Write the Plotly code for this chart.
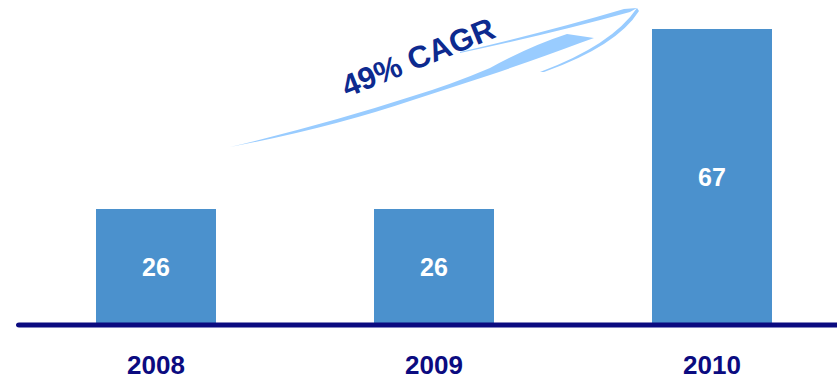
import plotly.graph_objects as go

# Revenue by year
years = ["2008", "2009", "2010"]
values = [26, 26, 67]
cagr_label = "49% CAGR"

W, H = 837, 379
MARGIN_B = 55
PLOT_H = H - MARGIN_B

BAR_COLOR = "#4b91cd"
NAVY = "#0b0b80"
SWOOSH = "#99ccff"

x_pos = list(range(len(years)))

fig = go.Figure(
    go.Bar(
        x=x_pos,
        y=values,
        width=0.432,
        marker=dict(color=BAR_COLOR, line=dict(width=0)),
        text=values,
        texttemplate="<b>%{text}</b>",
        textposition="inside",
        insidetextanchor="middle",
        textfont=dict(family="Arial, Liberation Sans, sans-serif", size=25, color="white"),
        hoverinfo="skip",
    )
)


def px_to_paper(px, py):
    return px / W, (PLOT_H - py) / PLOT_H


def path_from_px(points_cmds):
    """Build an SVG path in paper coordinates from pixel-space commands."""
    out = []
    for cmd, pts in points_cmds:
        coords = []
        for (px, py) in pts:
            xp, yp = px_to_paper(px, py)
            coords.append(f"{xp:.5f},{yp:.5f}")
        out.append(cmd + " " + " ".join(coords))
    return " ".join(out) + " Z"


# Growth swoosh: main band, upper stroke and return stroke of the arrow tip
band = path_from_px([
    ("M", [(230, 147)]),
    ("Q", [(330, 128), (413, 100)]),
    ("L", [(490, 75)]),
    ("Q", [(540, 58), (580, 43)]),
    ("L", [(594, 38)]),
    ("L", [(567, 34)]),
    ("Q", [(530, 46), (490, 68)]),
    ("Q", [(450, 85), (413, 96)]),
    ("Q", [(330, 123), (230, 147)]),
])
upper = path_from_px([
    ("M", [(460, 52)]),
    ("Q", [(550, 31), (624, 9)]),
    ("L", [(637, 8)]),
    ("L", [(630, 12)]),
    ("Q", [(550, 34), (460, 53)]),
])
ret = path_from_px([
    ("M", [(637, 8)]),
    ("Q", [(612, 45), (540, 72)]),
    ("L", [(544, 72)]),
    ("Q", [(617, 46), (639, 11)]),
])

# Baseline just under the bar bottoms, with a rounded left end
base = path_from_px([
    ("M", [(19, 322.5)]),
    ("L", [(W, 322.5)]),
    ("L", [(W, 327.5)]),
    ("L", [(19, 327.5)]),
    ("Q", [(16, 327.5), (16, 325)]),
    ("Q", [(16, 322.5), (19, 322.5)]),
])

shapes = []
for p in (band, upper, ret):
    shapes.append(dict(type="path", path=p, xref="paper", yref="paper",
                       fillcolor=SWOOSH, line=dict(width=0), layer="above"))
shapes.append(dict(type="path", path=base, xref="paper", yref="paper",
                   fillcolor=NAVY, line=dict(width=0), layer="above"))

y_top = PLOT_H / 4.41

cx, cy = px_to_paper(418, 57)

fig.update_layout(
    width=W,
    height=H,
    margin=dict(l=0, r=0, t=0, b=MARGIN_B),
    paper_bgcolor="white",
    plot_bgcolor="white",
    showlegend=False,
    bargap=0,
    shapes=shapes,
    annotations=[dict(
        text=f"<b>{cagr_label}</b>", x=cx, y=cy, xref="paper", yref="paper",
        xanchor="center", yanchor="middle",
        showarrow=False, textangle=-22,
        font=dict(family="Arial, Liberation Sans, sans-serif", size=31, color="#0d2a8f"),
    )],
    xaxis=dict(
        range=[-156 / 278, (W - 156) / 278],
        tickvals=x_pos,
        ticktext=[f"<b>{y}</b>" for y in years],
        tickfont=dict(family="Arial, Liberation Sans, sans-serif", size=26, color=NAVY),
        showgrid=False, zeroline=False, showline=False, ticks="",
        ticklabelstandoff=23,
        fixedrange=True,
    ),
    yaxis=dict(
        range=[0, y_top], visible=False, showgrid=False, zeroline=False,
        fixedrange=True,
    ),
)

fig.write_html("out.html", config={"displayModeBar": False})
